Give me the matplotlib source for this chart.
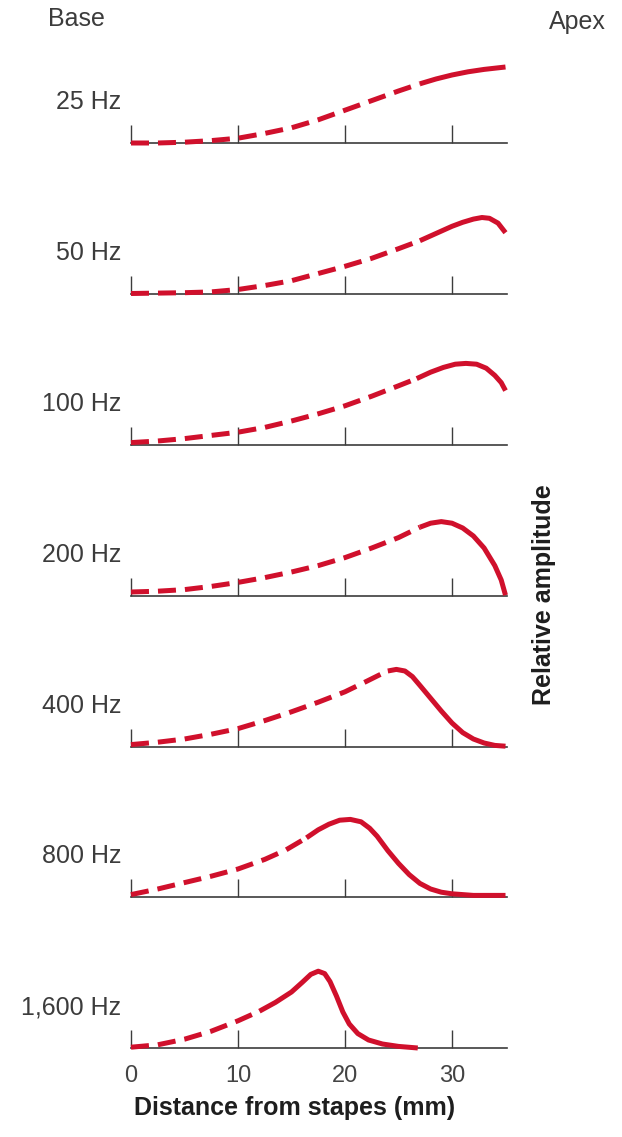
import matplotlib
matplotlib.use("Agg")
import matplotlib.pyplot as plt

plt.rcParams['font.family'] = ['Liberation Sans', 'DejaVu Sans']

# Values: distance from stapes (mm) and relative amplitude
freq_labels = ['25 Hz', '50 Hz', '100 Hz', '200 Hz', '400 Hz', '800 Hz', '1,600 Hz']

x_25 = [0, 2.5, 5, 7.5, 10, 12.5, 15, 17.5, 20, 22.5, 25, 27, 28.5, 30, 31.5, 33, 35]
y_25 = [0, 0, 0.01, 0.03, 0.06, 0.12, 0.19, 0.29, 0.41, 0.53, 0.65, 0.74, 0.80,
        0.85, 0.89, 0.92, 0.95]

x_50 = [0, 5, 7.5, 10, 12.5, 15, 17.5, 20, 22.5, 25, 27, 28.5, 30, 31, 32, 32.8,
        33.5, 34.3, 35]
y_50 = [0, 0.01, 0.02, 0.05, 0.10, 0.16, 0.25, 0.34, 0.44, 0.56, 0.66, 0.75, 0.84,
        0.89, 0.93, 0.95, 0.94, 0.88, 0.76]

x_100 = [0, 2.5, 5, 7.5, 10, 12.5, 15, 17.5, 20, 22.5, 25, 26.7, 28, 29.2, 30.3,
         31.3, 32.3, 33.2, 34, 34.6, 35]
y_100 = [0.03, 0.05, 0.08, 0.12, 0.16, 0.22, 0.30, 0.39, 0.49, 0.61, 0.74, 0.83,
         0.91, 0.97, 1.01, 1.02, 1.01, 0.96, 0.87, 0.78, 0.68]

x_200 = [0, 2.5, 5, 7.5, 10, 12.5, 15, 17.5, 20, 22.5, 25, 27, 28, 29, 30, 31, 32,
         33, 34, 34.6, 35]
y_200 = [0.05, 0.06, 0.08, 0.12, 0.17, 0.23, 0.30, 0.38, 0.48, 0.60, 0.73, 0.86,
         0.91, 0.93, 0.91, 0.85, 0.75, 0.60, 0.38, 0.20, 0.01]

x_400 = [0, 2.5, 5, 7.5, 10, 12.5, 15, 17.5, 20, 22, 23.2, 24, 24.8, 25.6, 26.3, 27,
         28, 29, 30, 31, 32, 33, 34, 35]
y_400 = [0.03, 0.06, 0.10, 0.16, 0.23, 0.33, 0.44, 0.56, 0.69, 0.82, 0.90, 0.95,
         0.97, 0.95, 0.88, 0.77, 0.61, 0.45, 0.30, 0.18, 0.10, 0.05, 0.02, 0.01]

x_800 = [0, 2.5, 5, 7.5, 10, 12.5, 14.5, 16.4, 17.5, 18.5, 19.5, 20.5, 21.5, 22.3,
         23, 24, 25, 26, 27, 28, 29, 30, 32, 35]
y_800 = [0.03, 0.10, 0.18, 0.26, 0.35, 0.47, 0.59, 0.74, 0.84, 0.91, 0.96, 0.97,
         0.94, 0.86, 0.76, 0.58, 0.42, 0.28, 0.17, 0.10, 0.06, 0.04, 0.02, 0.02]

x_1600 = [0, 2.5, 5, 7.5, 10, 12, 13.5, 15, 16, 16.8, 17.5, 18.1, 18.6, 19.2, 19.8,
          20.4, 21.2, 22.2, 23.5, 25, 26.8]
y_1600 = [0.01, 0.04, 0.11, 0.21, 0.34, 0.46, 0.57, 0.70, 0.82, 0.92, 0.96, 0.93,
          0.83, 0.65, 0.45, 0.30, 0.18, 0.10, 0.05, 0.02, 0.0]

xs = [x_25, x_50, x_100, x_200, x_400, x_800, x_1600]
ys = [y_25, y_50, y_100, y_200, y_400, y_800, y_1600]
# where the dashed part of each curve turns solid (mm)
solid_from = [27, 27, 26.7, 27, 24, 16.4, 12]

tick_pos = [0, 10, 20, 30]
tick_text = ['0', '10', '20', '30']

W, H = 622, 1137
baselines = [143, 293.5, 445, 596, 747, 897, 1048]
red = '#d0102c'
grey = '#3c3c3c'

fig = plt.figure(figsize=(W / 100, H / 100), dpi=100)

for i, label in enumerate(freq_labels):
    ax = fig.add_axes([131 / W, 1 - baselines[i] / H, 376 / W, 90 / H])
    ax.set_xlim(0, 35.14)
    ax.set_ylim(0, 1.125)
    for side in ['top', 'right', 'left']:
        ax.spines[side].set_visible(False)
    ax.spines['bottom'].set_color(grey)
    ax.spines['bottom'].set_linewidth(1.2)
    ax.set_yticks([])
    ax.set_xticks(tick_pos)
    ax.tick_params(axis='x', direction='in', length=13, width=1.0, color=grey,
                   labelsize=17, labelcolor='#444444', pad=12)
    if i == len(freq_labels) - 1:
        ax.set_xticklabels(tick_text)
    else:
        ax.set_xticklabels([])
    ax.patch.set_alpha(0)

    x, y = xs[i], ys[i]
    cut = x.index(solid_from[i])
    ax.plot(x[:cut + 1], y[:cut + 1], color=red, lw=3.6, dashes=(3.6, 1.8),
            dash_capstyle='butt', dash_joinstyle='round', clip_on=False, zorder=3)
    ax.plot(x[cut:], y[cut:], color=red, lw=3.6, solid_capstyle='butt',
            solid_joinstyle='round', clip_on=False, zorder=3)

    ax.text(-0.9, 0.51, label, ha='right', va='center', fontsize=18,
            color=grey, clip_on=False)

fig.text(76 / W, 1 - 19 / H, 'Base', ha='center', va='center', fontsize=18, color=grey)
fig.text(577 / W, 1 - 22 / H, 'Apex', ha='center', va='center', fontsize=18, color=grey)
fig.text(544 / W, 1 - 595 / H, 'Relative amplitude', rotation=90, ha='center',
         va='center', fontsize=18, fontweight='bold', color='#1e1e1e')
fig.text(295 / W, 1 - 1108 / H, 'Distance from stapes (mm)', ha='center',
         va='center', fontsize=18, fontweight='bold', color='#1e1e1e')

fig.savefig('out.png', dpi=100)
